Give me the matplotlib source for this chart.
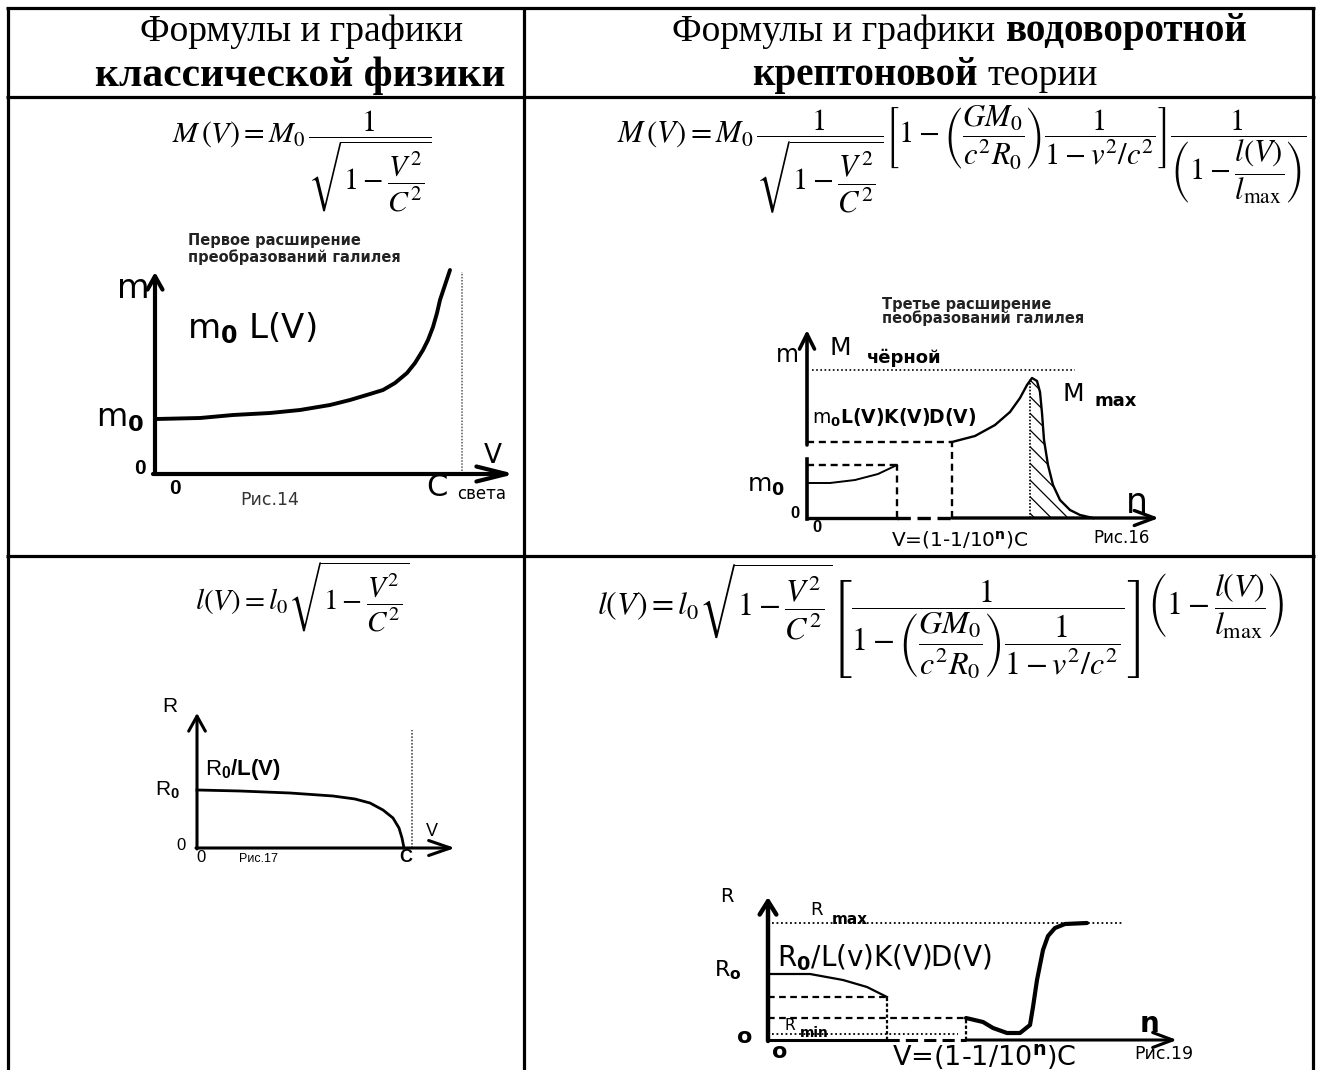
import matplotlib
matplotlib.use('Agg')
import matplotlib.pyplot as plt

W, H = 1319, 1070
plt.rcParams['mathtext.fontset'] = 'custom'
plt.rcParams['mathtext.rm'] = 'Liberation Sans'
plt.rcParams['mathtext.bf'] = 'Liberation Sans:bold'
plt.rcParams['mathtext.it'] = 'Liberation Sans:italic'
plt.rcParams['hatch.linewidth'] = 0.9

# ---------------- data ----------------
header_left = [[("Формулы и графики", "normal")],
               [("классической физики", "bold")]]
header_right = [[("Формулы и графики", "normal"), ("водоворотной", "bold")],
                [("крептоновой", "bold"), ("теории", "normal")]]

formula_mass_classic = r'$M\,(V) = M_0\,\dfrac{1}{\sqrt{1-\dfrac{V^2}{C^2}}}$'
formula_mass_vortex = (r'$M\,(V) = M_0\,\dfrac{1}{\sqrt{1-\dfrac{V^2}{C^2}}}'
                       r'\left[1-\left(\dfrac{GM_0}{c^2R_0}\right)\dfrac{1}{1-v^2/c^2}\right]'
                       r'\dfrac{1}{\left(1-\dfrac{l(V)}{l_{\mathrm{max}}}\right)}$')
formula_len_classic = r'$l(V) = l_0\sqrt{1-\dfrac{V^2}{C^2}}$'
formula_len_vortex = (r'$l(V) = l_0\sqrt{1-\dfrac{V^2}{C^2}}'
                      r'\left[\dfrac{1}{1-\left(\dfrac{GM_0}{c^2R_0}\right)\dfrac{1}{1-v^2/c^2}}\right]'
                      r'\left(1-\dfrac{l(V)}{l_{\mathrm{max}}}\right)$')

# Fig.14  m(V) (units: px from origin, y up)
fig14_v = [1, 45, 78, 115, 145, 175, 195, 215, 228, 240, 252, 260, 268, 273, 278, 282, 285, 290, 295]
fig14_m = [55, 56, 59, 61, 64, 69, 74, 80, 84, 91, 101, 111, 124, 134, 147, 161, 174, 189, 204]
fig14_c = 307

# Fig.16  m(n)
fig16_low_n = [0, 23, 48, 71, 90]
fig16_low_m = [35, 35, 38, 44, 53]
fig16_n = [145, 168, 188, 203, 213, 220, 225, 230, 233, 235, 237, 241, 246, 253, 263, 273, 286]
fig16_m = [76, 82, 93, 106, 120, 133, 140, 137, 126, 105, 78, 53, 33, 18, 8, 3, 0]
fig16_hatch_n = [223, 225, 230, 233, 235, 237, 241, 246, 253, 263, 273, 286]
fig16_hatch_m = [139, 140, 137, 126, 105, 78, 53, 33, 18, 8, 3, 0]
fig16_black = 148
fig16_peak = 223

# Fig.17  R(V)
fig17_v = [0, 43, 93, 136, 158, 173, 186, 196, 202, 205, 207]
fig17_r = [58, 57, 55, 52, 49, 45, 38, 30, 20, 10, 0]
fig17_c = 215

# Fig.19  R(n)
fig19_low_n = [0, 42, 75, 99, 119]
fig19_low_r = [66, 66, 60, 53, 43]
fig19_n = [198, 215, 225, 239, 252, 262, 265, 269, 275, 280, 287, 297, 319]
fig19_r = [22, 18, 12, 7, 7, 15, 33, 60, 90, 104, 112, 116, 117]
fig19_rmax = 117
fig19_rmin = 6

# ---------------- figure ----------------
fig = plt.figure(figsize=(W / 100, H / 100), dpi=100)
base = fig.add_axes([0, 0, 1, 1])
base.set_xlim(0, W)
base.set_ylim(H, 0)
base.axis('off')
renderer = fig.canvas.get_renderer()


def gax(ox, oy):
    a = fig.add_axes([0, 0, 1, 1])
    a.set_xlim(-ox, W - ox)
    a.set_ylim(oy - H, oy)
    a.axis('off')
    a.patch.set_alpha(0)
    return a


def arrow(a, p0, p1, lw, hl=1.0, hw=0.5, ms=12):
    a.annotate('', xy=p1, xytext=p0,
               arrowprops=dict(arrowstyle=f'->,head_length={hl},head_width={hw}',
                               lw=lw, color='k', shrinkA=0, shrinkB=0,
                               mutation_scale=ms))


def runs(xc, y, parts, size, bold_extra=1):
    texts = []
    total = 0.0
    gap = 0.27 * size * 100 / 72
    for i, (s, w) in enumerate(parts):
        t = base.text(0, y, s, fontsize=size + (bold_extra if w == 'bold' else 0), fontweight=w,
                      family='Liberation Serif', va='center', ha='left')
        wd = t.get_window_extent(renderer).width
        texts.append((t, wd))
        total += wd + (gap if i else 0)
    x = xc - total / 2
    for i, (t, wd) in enumerate(texts):
        if i:
            x += gap
        t.set_x(x)
        x += wd


# table lines
lk = dict(color='k', lw=2.3, solid_capstyle='butt')
base.plot([6, 1315], [8, 8], **lk)
base.plot([6, 1315], [97, 97], **lk)
base.plot([6, 1315], [556, 556], **lk)
base.plot([8, 8], [8, H], **lk)
base.plot([1313, 1313], [8, H], **lk)
base.plot([524, 524], [8, H], **lk)

# header
runs(302, 32, header_left[0], 27)
runs(300, 76, header_left[1], 27, bold_extra=3)
runs(960, 32, header_right[0], 27)
runs(925, 76, header_right[1], 27)

# formulas
base.text(302, 108, formula_mass_classic, fontsize=21.5, math_fontfamily='stix', ha='center', va='top')
base.text(962, 104, formula_mass_vortex, fontsize=22.1, math_fontfamily='stix', ha='center', va='top')
base.text(302, 560, formula_len_classic, fontsize=21, math_fontfamily='stix', ha='center', va='top')
base.text(941, 562, formula_len_vortex, fontsize=23, math_fontfamily='stix', ha='center', va='top')

sans = 'Liberation Sans'
wide = 'DejaVu Sans'

# ---------- Fig.14 ----------
g1 = gax(155, 474)
g1.plot(fig14_v, fig14_m, color='k', lw=2.8, solid_capstyle='round', solid_joinstyle='round')
g1.plot([fig14_c, fig14_c], [0, 202], color='0.35', lw=1.1, ls=(0, (1, 1)))
arrow(g1, (0, 0), (0, 202), lw=3.0, hl=0.8, hw=0.45)
arrow(g1, (-2, 0), (360, 0), lw=3.0, hl=1.8, hw=0.45)
base.text(188, 240, "Первое расширение", family=wide, fontsize=10.5, fontweight='bold', color='#222', ha='left', va='center')
base.text(188, 257, "преобразований галилея", family=wide, fontsize=10.5, fontweight='bold', color='#222', ha='left', va='center')
base.text(133, 289, "m", family=wide, fontsize=24, ha='center', va='center')
base.text(187, 328, r'$\mathrm{m}_{\mathbf{0}}$ L(V)', family=wide, fontsize=24.5, math_fontfamily='dejavusans', ha='left', va='center')
base.text(96, 419, r'$\mathrm{m}_{\mathbf{0}}$', family=wide, fontsize=23, math_fontfamily='dejavusans', ha='left', va='center')
base.text(140, 468, "0", family=sans, fontsize=15, fontweight='bold', ha='center', va='center')
base.text(493, 456, "V", family=wide, fontsize=19, ha='center', va='center')
base.text(175, 489, "0", family=sans, fontsize=15, fontweight='bold', ha='center', va='center')
base.text(270, 500, "Рис.14", family=wide, fontsize=12.5, color='#333', ha='center', va='center')
base.text(437, 487, "C", family=wide, fontsize=22, ha='center', va='center')
base.text(482, 494, "света", family=wide, fontsize=12, ha='center', va='center')

# ---------- Fig.16 ----------
g2 = gax(807, 518)
dash = (0, (3, 2))
g2.fill_between(fig16_hatch_n, 0, fig16_hatch_m, facecolor='none', edgecolor='k', hatch='\\\\', lw=0)
g2.plot(fig16_n, fig16_m, color='k', lw=1.7, solid_joinstyle='round')
g2.plot(fig16_low_n, fig16_low_m, color='k', lw=1.4)
g2.plot([0, fig16_n[0]], [fig16_m[0], fig16_m[0]], color='k', lw=1.7, ls=dash)
g2.plot([fig16_n[0], fig16_n[0]], [0, fig16_m[0]], color='k', lw=1.7, ls=dash)
g2.plot([0, fig16_low_n[-1]], [fig16_low_m[-1], fig16_low_m[-1]], color='k', lw=1.7, ls=dash)
g2.plot([fig16_low_n[-1], fig16_low_n[-1]], [0, fig16_low_m[-1]], color='k', lw=1.7, ls=dash)
g2.plot([5, 268], [fig16_black, fig16_black], color='k', lw=1.2, ls=(0, (1, 1.5)))
g2.plot([fig16_peak, fig16_peak], [0, 139], color='k', lw=1.2, ls=(0, (1, 1)))
g2.plot([0, fig16_low_n[-1]], [0, 0], color='k', lw=2.4)
g2.plot([fig16_low_n[-1], fig16_n[0]], [0, 0], color='k', lw=2.4, ls=(0, (4, 2)))
arrow(g2, (fig16_n[0], 0), (352, 0), lw=2.4, hl=1.2, hw=0.45)
g2.plot([0, 0], [-1, 59], color='k', lw=2.6)
arrow(g2, (0, 73), (0, 188), lw=2.6, hl=0.9, hw=0.45)
base.text(882, 304, "Третье расширение", family=wide, fontsize=10.5, fontweight='bold', color='#222', ha='left', va='center')
base.text(882, 318, "пеобразований галилея", family=wide, fontsize=10.5, fontweight='bold', color='#222', ha='left', va='center')
base.text(787, 355, "m", family=wide, fontsize=17, ha='center', va='center')
base.text(840, 348, "M", family=wide, fontsize=18, ha='center', va='center')
base.text(867, 358, "чёрной", family=wide, fontsize=13, fontweight='bold', ha='left', va='center')
base.text(812, 418, r'$\mathrm{m}_{\mathbf{0}}\mathbf{L(V)K(V)D(V)}$', family=wide, fontsize=13.5,
          math_fontfamily='dejavusans', ha='left', va='center')
base.text(1073, 394, "M", family=wide, fontsize=18, ha='center', va='center')
base.text(1094, 401, "max", family=wide, fontsize=13, fontweight='bold', ha='left', va='center')
base.text(747, 486, r'$\mathrm{m}_{\mathbf{0}}$', family=wide, fontsize=18, math_fontfamily='dejavusans', ha='left', va='center')
base.text(1137, 503, "n", family=wide, fontsize=25, ha='center', va='center')
base.text(795, 514, "0", family=sans, fontsize=12, fontweight='bold', ha='center', va='center')
base.text(817, 527, "0", family=sans, fontsize=12, fontweight='bold', ha='center', va='center')
base.text(960, 540, r'V=(1-1/10$^{\mathbf{n}}$)C', family=wide, fontsize=14.5, math_fontfamily='dejavusans', ha='center', va='center')
base.text(1122, 538, "Рис.16", family=wide, fontsize=12, ha='center', va='center')

# ---------- Fig.17 ----------
g3 = gax(197, 848)
g3.plot(fig17_v, fig17_r, color='k', lw=2.0, solid_joinstyle='round')
g3.plot([fig17_c, fig17_c], [0, 118], color='0.3', lw=1.2, ls=(0, (1, 1)))
arrow(g3, (0, -1), (0, 135), lw=2.2, hl=0.9, hw=0.5)
arrow(g3, (-1, 0), (258, 0), lw=2.2, hl=1.3, hw=0.45)
base.text(170, 707, "R", family=sans, fontsize=15, ha='center', va='center')
base.text(205, 769, r'$\mathrm{R}_{\mathbf{0}}\mathbf{/L(V)}$', family=sans, fontsize=16, ha='left', va='center')
base.text(155, 790, r'$\mathrm{R}_{\mathbf{0}}$', family=sans, fontsize=15, ha='left', va='center')
base.text(181, 845, "0", family=sans, fontsize=12, ha='center', va='center')
base.text(201, 858, "0", family=sans, fontsize=12, ha='center', va='center')
base.text(258, 859, "Рис.17", family=sans, fontsize=9, ha='center', va='center')
base.text(406, 857, "C", family=sans, fontsize=13, fontweight='bold', ha='center', va='center')
base.text(432, 831, "V", family=sans, fontsize=13, ha='center', va='center')

# ---------- Fig.19 ----------
g4 = gax(768, 1040)
g4.plot(fig19_low_n, fig19_low_r, color='k', lw=1.6)
g4.plot(fig19_n, fig19_r, color='k', lw=3.0, solid_capstyle='round', solid_joinstyle='round')
g4.plot([0, fig19_low_n[-1]], [fig19_low_r[-1], fig19_low_r[-1]], color='k', lw=1.6, ls=dash)
g4.plot([fig19_low_n[-1], fig19_low_n[-1]], [0, fig19_low_r[-1]], color='k', lw=1.6, ls=(0, (1.5, 1)))
g4.plot([0, fig19_n[0]], [fig19_r[0], fig19_r[0]], color='k', lw=1.6, ls=dash)
g4.plot([fig19_n[0], fig19_n[0]], [0, fig19_r[0]], color='k', lw=1.6, ls=(0, (1.5, 1)))
g4.plot([4, 190], [fig19_rmin, fig19_rmin], color='k', lw=1.3, ls=(0, (1, 1.5)))
g4.plot([4, 355], [fig19_rmax, fig19_rmax], color='k', lw=1.3, ls=(0, (1, 1.5)))
g4.plot([0, fig19_low_n[-1]], [0, 0], color='k', lw=2.2)
g4.plot([fig19_low_n[-1], fig19_n[0]], [0, 0], color='k', lw=2.2, ls=(0, (4, 2)))
arrow(g4, (fig19_n[0], 0), (409, 0), lw=2.2, hl=1.2, hw=0.45)
arrow(g4, (0, -1), (0, 143), lw=3.2, hl=0.8, hw=0.5)
base.text(727, 896, "R", family=wide, fontsize=14, ha='center', va='center')
base.text(817, 910, "R", family=wide, fontsize=13, ha='center', va='center')
base.text(832, 920, "max", family=wide, fontsize=11, fontweight='bold', ha='left', va='center')
base.text(777, 958, r'$\mathrm{R}_{\mathbf{0}}$/L(v)K(V)D(V)', family=wide, fontsize=20, math_fontfamily='dejavusans', ha='left', va='center')
base.text(714, 970, r'$\mathrm{R}_{\mathbf{o}}$', family=wide, fontsize=16, math_fontfamily='dejavusans', ha='left', va='center')
base.text(790, 1025, "R", family=wide, fontsize=11, ha='center', va='center')
base.text(800, 1033, "min", family=wide, fontsize=10, fontweight='bold', ha='left', va='center')
base.text(745, 1037, "o", family=wide, fontsize=16, fontweight='bold', ha='center', va='center')
base.text(780, 1052, "o", family=wide, fontsize=16, fontweight='bold', ha='center', va='center')
base.text(984, 1057, r'V=(1-1/10$^{\mathbf{n}}$)C', family=wide, fontsize=19.5, math_fontfamily='dejavusans', ha='center', va='center')
base.text(1150, 1024, "n", family=wide, fontsize=20, fontweight='bold', ha='center', va='center')
base.text(1164, 1054, "Рис.19", family=wide, fontsize=12.5, ha='center', va='center')

fig.savefig('out.png', dpi=100)
